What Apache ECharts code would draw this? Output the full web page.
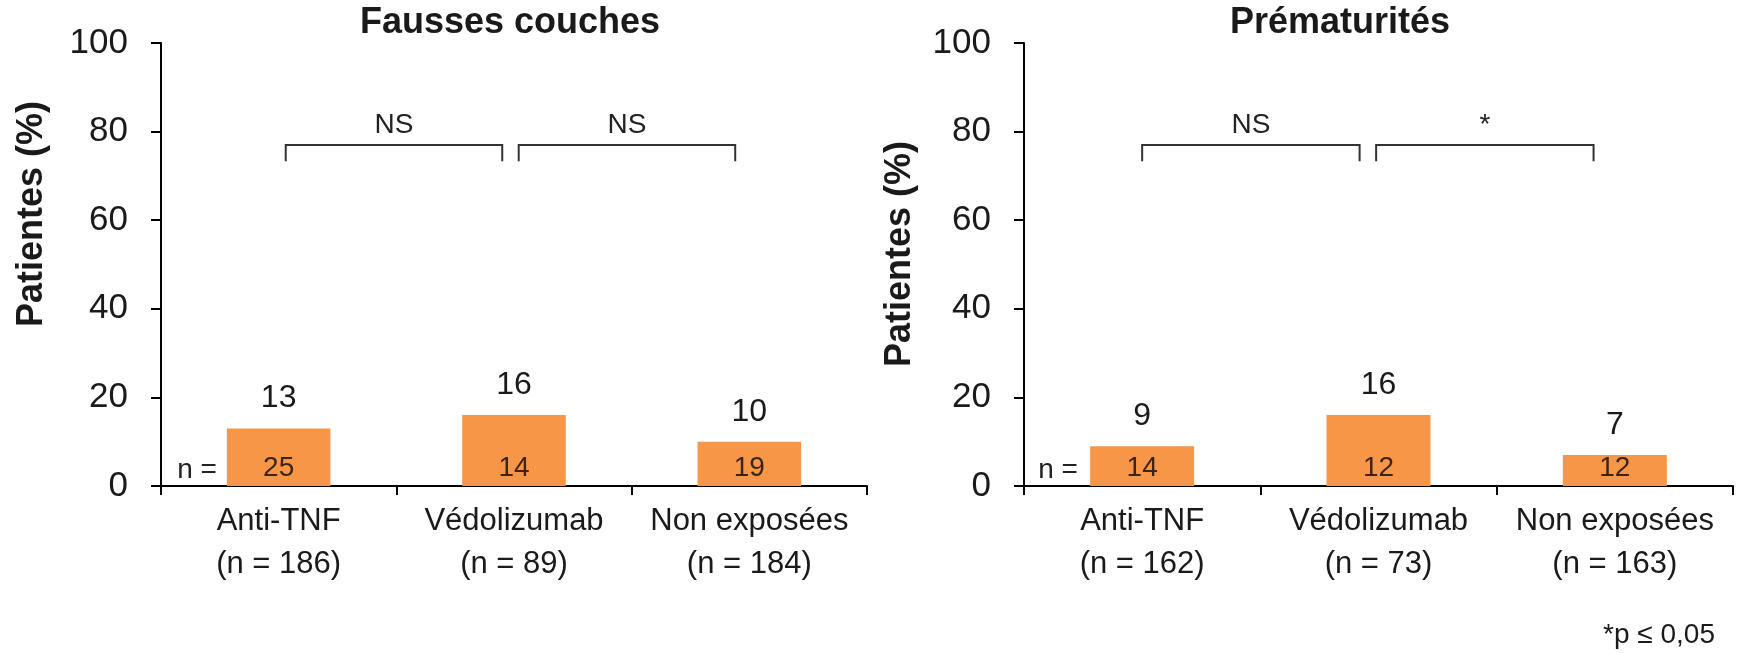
<!DOCTYPE html>
<html>
<head>
<meta charset="utf-8">
<script src="https://cdn.jsdelivr.net/npm/echarts@6/dist/echarts.min.js"></script>
<style>
html,body{margin:0;padding:0;background:#fff;}
#chart{width:1739px;height:653px;}
</style>
</head>
<body>
<div id="chart"></div>
<script>
// ---- data ----
const leftTitle = 'Fausses couches';
const rightTitle = 'Prématurités';
const yAxisTitle = 'Patientes (%)';
const footnote = '*p ≤ 0,05';

const leftCategories = ['Anti-TNF\n(n = 186)', 'Védolizumab\n(n = 89)', 'Non exposées\n(n = 184)'];
const leftValues = [13, 16, 10];
const leftCounts = [25, 14, 19];

const rightCategories = ['Anti-TNF\n(n = 162)', 'Védolizumab\n(n = 73)', 'Non exposées\n(n = 163)'];
const rightValues = [9, 16, 7];
const rightCounts = [14, 12, 12];

const yMin = 0, yMax = 100, yInterval = 20;

// significance brackets (category units, value units)
const leftBracketFrom = [0.03, 1.02];
const leftBracketTo = [0.95, 1.94];
const leftBracketLabels = ['NS', 'NS'];
const rightBracketFrom = [0.0, 0.99];
const rightBracketTo = [0.92, 1.91];
const rightBracketLabels = ['NS', '*'];
const bracketTop = 77;
const bracketLeg = 73.3;
const bracketLabelY = 81.4;

// ---- chart ----
const FONT = "'Liberation Sans', Arial, sans-serif";
const TXT = '#1a1a1a';
const BAR = '#F79646';

const chart = echarts.init(document.getElementById('chart'));

function bracketRenderer(from, to, labels) {
  return function (params, api) {
    const i = params.dataIndex;
    const bw = api.size([1, 0])[0];
    const px = function (v) {
      const k = Math.round(v);
      return api.coord([k, 0])[0] + (v - k) * bw;
    };
    const x1 = px(from[i]), x2 = px(to[i]);
    const yT = api.coord([0, bracketTop])[1];
    const yL = api.coord([0, bracketLeg])[1];
    const yLab = api.coord([0, bracketLabelY])[1];
    return {
      type: 'group',
      children: [
        { type: 'polyline', shape: { points: [[x1, yL], [x1, yT], [x2, yT], [x2, yL]] },
          style: { stroke: '#333', lineWidth: 2, fill: null } },
        { type: 'text', x: (x1 + x2) / 2, y: yLab,
          style: { text: labels[i], fontSize: 28, fontFamily: FONT, fill: '#222', align: 'center', verticalAlign: 'middle' } }
      ]
    };
  };
}

function xAxisFor(cats, gridIndex) {
  return {
    type: 'category', gridIndex: gridIndex, data: cats,
    axisLine: { show: true, lineStyle: { color: '#000', width: 2 } },
    axisTick: { show: true, alignWithLabel: false, length: 9, lineStyle: { color: '#000', width: 2 } },
    axisLabel: { interval: 0, fontSize: 31, lineHeight: 43, color: TXT, fontFamily: FONT, margin: 14 }
  };
}
function yAxisFor(gridIndex) {
  return {
    type: 'value', gridIndex: gridIndex, min: yMin, max: yMax, interval: yInterval,
    axisLine: { show: true, lineStyle: { color: '#000', width: 2 } },
    axisTick: { show: true, length: 10, lineStyle: { color: '#000', width: 2 } },
    splitLine: { show: false },
    axisLabel: { fontSize: 35, color: TXT, fontFamily: FONT, margin: 33 }
  };
}
function barSeries(values, idx) {
  return {
    type: 'bar', xAxisIndex: idx, yAxisIndex: idx, data: values, barWidth: '44%',
    itemStyle: { color: BAR },
    label: { show: true, position: 'top', distance: 14, fontSize: 32, color: TXT, fontFamily: FONT }
  };
}
function countSeries(values, counts, idx) {
  return {
    type: 'bar', xAxisIndex: idx, yAxisIndex: idx, data: values, barWidth: '44%', barGap: '-100%',
    itemStyle: { color: 'rgba(0,0,0,0)' }, silent: true,
    label: { show: true, position: 'insideBottom', distance: 4, fontSize: 28, color: '#3c2414', fontFamily: FONT,
      formatter: function (p) { return String(counts[p.dataIndex]); } }
  };
}
function bracketSeries(from, to, labels, idx) {
  return {
    type: 'custom', xAxisIndex: idx, yAxisIndex: idx, silent: true,
    data: labels.map(function (_, i) { return [i, bracketTop]; }),
    renderItem: bracketRenderer(from, to, labels)
  };
}

const option = {
  animation: false,
  backgroundColor: '#fff',
  textStyle: { fontFamily: FONT },
  title: [
    { text: leftTitle, left: 510, top: 5, textAlign: 'center', padding: 0,
      textStyle: { fontSize: 36, fontWeight: 'bold', color: TXT, fontFamily: FONT } },
    { text: rightTitle, left: 1340, top: 5, textAlign: 'center', padding: 0,
      textStyle: { fontSize: 36, fontWeight: 'bold', color: TXT, fontFamily: FONT } },
    { text: footnote, right: 24, top: 621, padding: 0,
      textStyle: { fontSize: 28, fontWeight: 'normal', color: TXT, fontFamily: FONT } }
  ],
  grid: [
    { left: 161, top: 43, width: 706, height: 443 },
    { left: 1024, top: 43, width: 709, height: 443 }
  ],
  xAxis: [xAxisFor(leftCategories, 0), xAxisFor(rightCategories, 1)],
  yAxis: [yAxisFor(0), yAxisFor(1)],
  graphic: [
    { type: 'text', x: 32, y: 214, rotation: Math.PI / 2,
      style: { text: yAxisTitle, fontSize: 36, fontWeight: 'bold', fontFamily: FONT, fill: TXT, align: 'center', verticalAlign: 'middle' } },
    { type: 'text', x: 900, y: 254, rotation: Math.PI / 2,
      style: { text: yAxisTitle, fontSize: 36, fontWeight: 'bold', fontFamily: FONT, fill: TXT, align: 'center', verticalAlign: 'middle' } },
    { type: 'text', x: 197, y: 470,
      style: { text: 'n =', fontSize: 28, fontFamily: FONT, fill: '#222', align: 'center', verticalAlign: 'middle' } },
    { type: 'text', x: 1058, y: 470,
      style: { text: 'n =', fontSize: 28, fontFamily: FONT, fill: '#222', align: 'center', verticalAlign: 'middle' } }
  ],
  series: [
    barSeries(leftValues, 0),
    countSeries(leftValues, leftCounts, 0),
    bracketSeries(leftBracketFrom, leftBracketTo, leftBracketLabels, 0),
    barSeries(rightValues, 1),
    countSeries(rightValues, rightCounts, 1),
    bracketSeries(rightBracketFrom, rightBracketTo, rightBracketLabels, 1)
  ]
};
chart.setOption(option);
</script>
</body>
</html>
